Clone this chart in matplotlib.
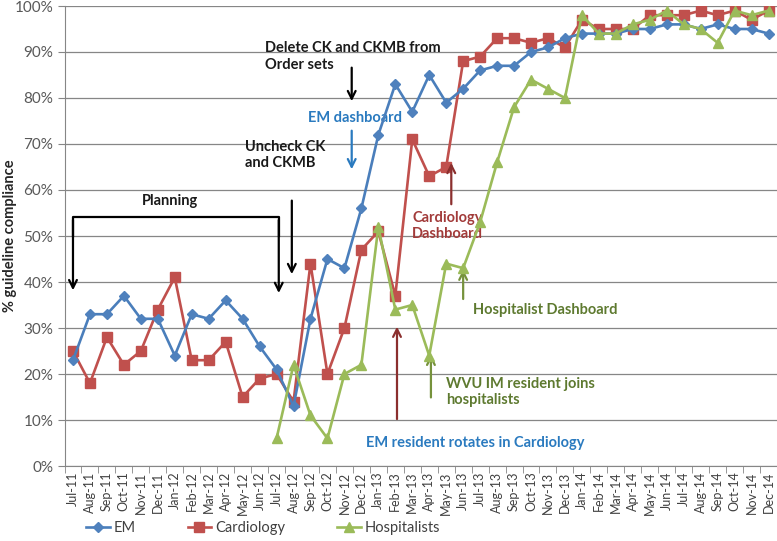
import matplotlib
matplotlib.use("Agg")
import matplotlib.pyplot as plt
import numpy as np

plt.rcParams['font.family'] = ['Lato', 'DejaVu Sans']

months = ["Jul-11", "Aug-11", "Sep-11", "Oct-11", "Nov-11", "Dec-11",
          "Jan-12", "Feb-12", "Mar-12", "Apr-12", "May-12", "Jun-12",
          "Jul-12", "Aug-12", "Sep-12", "Oct-12", "Nov-12", "Dec-12",
          "Jan-13", "Feb-13", "Mar-13", "Apr-13", "May-13", "Jun-13",
          "Jul-13", "Aug-13", "Sep-13", "Oct-13", "Nov-13", "Dec-13",
          "Jan-14", "Feb-14", "Mar-14", "Apr-14", "May-14", "Jun-14",
          "Jul-14", "Aug-14", "Sep-14", "Oct-14", "Nov-14", "Dec-14"]

em = [23, 33, 33, 37, 32, 32, 24, 33, 32, 36, 32, 26,
      21, 13, 32, 45, 43, 56, 72, 83, 77, 85, 79, 82,
      86, 87, 87, 90, 91, 93, 94, 94, 94, 95, 95, 96,
      96, 95, 96, 95, 95, 94]

cardiology = [25, 18, 28, 22, 25, 34, 41, 23, 23, 27, 15, 19,
              20, 14, 44, 20, 30, 47, 51, 37, 71, 63, 65, 88,
              89, 93, 93, 92, 93, 91, 97, 95, 95, 95, 98, 98,
              98, 99, 98, 99, 97, 99]

# hospitalist data starts Jul-12
hosp_start = 12
hospitalists = [6, 22, 11, 6, 20, 22, 52, 34, 35, 24, 44, 43,
                53, 66, 78, 84, 82, 80, 98, 94, 94, 96, 97, 99,
                96, 95, 92, 99, 98, 99]

fig = plt.figure(figsize=(7.77, 5.41), dpi=100)
ax = fig.add_axes([64.5 / 777, 1 - 466 / 541, (777 - 64.5) / 777, 460 / 541])

x = np.arange(len(months))
ax.plot(x, em, color="#4A7EBB", lw=1.9, marker="D", ms=5,
        mfc="#4F81BD", mec="#4F81BD", label="EM", zorder=4)
ax.plot(x, cardiology, color="#C0504D", lw=1.9, marker="s", ms=7,
        mfc="#C0504D", mec="#C0504D", label="Cardiology", zorder=3)
ax.plot(np.arange(hosp_start, hosp_start + len(hospitalists)), hospitalists,
        color="#9BBB59", lw=1.9, marker="^", ms=7.5,
        mfc="#9BBB59", mec="#9BBB59", label="Hospitalists", zorder=5)

ax.set_xlim(-0.5, len(months) - 0.5)
ax.set_ylim(0, 100)
ax.set_yticks(np.arange(0, 101, 10))
ax.set_yticklabels([f"{v}%" for v in range(0, 101, 10)])
ax.set_xticks(x)
ax.set_xticklabels(months, rotation=90)
ax.set_xticks(np.arange(-0.5, len(months), 1), minor=True)
ax.tick_params(axis="x", which="major", length=0, pad=4, labelsize=9,
               labelcolor="#404040")
ax.tick_params(axis="x", which="minor", length=5, color="#868686")
ax.tick_params(axis="y", length=5, color="#868686", labelsize=11,
               labelcolor="#595959", pad=3)
ax.grid(axis="y", color="#868686", lw=0.9)
ax.set_axisbelow(True)
for s in ["top", "right"]:
    ax.spines[s].set_visible(False)
for s in ["left", "bottom"]:
    ax.spines[s].set_color("#868686")
ax.set_ylabel("% guideline compliance", fontsize=10.5, fontweight="bold",
              color="#262626")
ax.yaxis.set_label_coords(-0.066, 0.5)

# annotations
arrow = dict(arrowstyle="->", lw=1.6, mutation_scale=14)
txt = dict(fontsize=10.5, fontweight="bold")

# Planning bracket
ax.plot([0, 0, 12.13, 12.13], [50, 54.1, 54.1, 50], color="black", lw=1.6, zorder=6)
ax.annotate("", xy=(0, 37.6), xytext=(0, 54.1), arrowprops=dict(arrow, color="black"))
ax.annotate("", xy=(12.13, 37.0), xytext=(12.13, 54.1), arrowprops=dict(arrow, color="black"))
ax.text(5.7, 57.6, "Planning", ha="center", va="center", color="#1a1a1a", **txt)

ax.text(10.13, 67.6, "Uncheck CK\nand CKMB", ha="left", va="center",
        color="#1a1a1a", linespacing=1.25, **txt)
ax.annotate("", xy=(12.9, 41.1), xytext=(12.9, 58.3), arrowprops=dict(arrow, color="black"))

ax.text(11.3, 89.1, "Delete CK and CKMB from\nOrder sets", ha="left", va="center",
        color="#1a1a1a", linespacing=1.25, **txt)
ax.annotate("", xy=(16.43, 78.7), xytext=(16.43, 87.2), arrowprops=dict(arrow, color="black"))

ax.text(16.6, 75.7, "EM dashboard", ha="center", va="center", color="#2A7ABF", **txt)
ax.annotate("", xy=(16.43, 63.9), xytext=(16.43, 73.5), arrowprops=dict(arrow, color="#2A7ABF"))

ax.text(20.0, 52.2, "Cardiology\nDashboard", ha="left", va="center",
        color="#A23B3A", linespacing=1.25, **txt)
ax.annotate("", xy=(22.3, 66.5), xytext=(22.3, 56.3), arrowprops=dict(arrow, color="#8B2F2E"))

ax.text(23.6, 33.9, "Hospitalist Dashboard", ha="left", va="center", color="#5E7A30", **txt)
ax.annotate("", xy=(23.0, 43.3), xytext=(23.0, 35.7), arrowprops=dict(arrow, color="#76923C"))

ax.text(22.0, 16.1, "WVU IM resident joins\nhospitalists", ha="left", va="center",
        color="#5E7A30", linespacing=1.25, **txt)
ax.annotate("", xy=(21.1, 24.8), xytext=(21.1, 14.3), arrowprops=dict(arrow, color="#76923C"))

ax.text(23.7, 5.0, "EM resident rotates in Cardiology", ha="center", va="center",
        color="#2A7ABF", **txt)
ax.annotate("", xy=(19.1, 30.9), xytext=(19.1, 9.6), arrowprops=dict(arrow, color="#8B2F2E"))

fig.legend(loc="center", bbox_to_anchor=(263 / 777, 1 - 528 / 541), ncol=3,
           frameon=False, fontsize=10.5, handlelength=1.6, handletextpad=0.25,
           columnspacing=3.6, labelcolor="#404040")

fig.savefig("out.png", dpi=100)
